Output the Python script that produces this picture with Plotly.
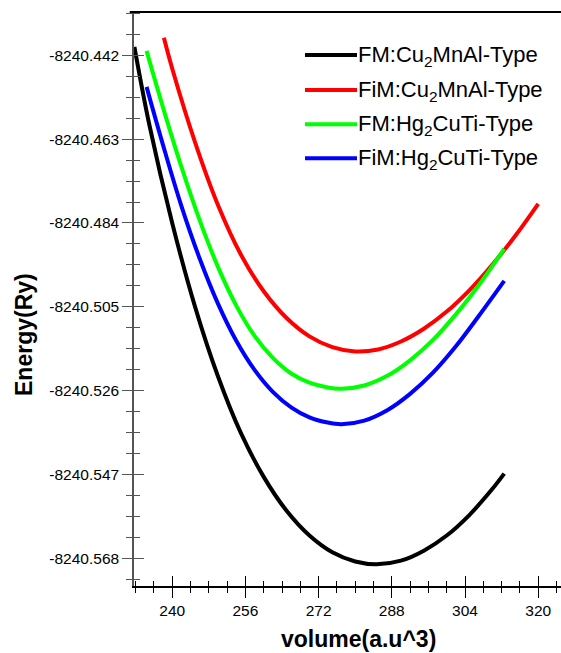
import plotly.graph_objects as go

# Energy-volume curves (volume in a.u^3, energy in Ry)
fm_cu2mnal_vol = [231.74, 235, 240, 245, 250, 255, 260, 265, 270, 275, 280, 284.68,
                  290, 295, 300, 305, 310, 312.57]
fm_cu2mnal_e = [-8240.4399, -8240.4594, -8240.4840, -8240.5050, -8240.5224, -8240.5366,
                -8240.5476, -8240.5561, -8240.5623, -8240.5665, -8240.5688, -8240.5695,
                -8240.5686, -8240.5661, -8240.5623, -8240.5571, -8240.5506, -8240.5468]

fim_cu2mnal_vol = [238.19, 240, 245, 250, 255, 260, 265, 270, 275, 280, 285, 290, 295,
                   300, 305, 310, 315, 320]
fim_cu2mnal_e = [-8240.4376, -8240.4453, -8240.4638, -8240.4795, -8240.4919, -8240.5011,
                 -8240.5078, -8240.5124, -8240.5151, -8240.5162, -8240.5157, -8240.5137,
                 -8240.5105, -8240.5062, -8240.5008, -8240.4944, -8240.4872, -8240.4792]

fm_hg2cuti_vol = [234.4, 238, 242, 246, 250, 254, 258, 262, 266, 270, 274, 277, 282, 287,
                  292, 297, 302, 307, 312.57]
fm_hg2cuti_e = [-8240.4409, -8240.4551, -8240.4699, -8240.4833, -8240.4950, -8240.5047,
                -8240.5123, -8240.5178, -8240.5217, -8240.5240, -8240.5252, -8240.5255,
                -8240.5247, -8240.5223, -8240.5184, -8240.5133, -8240.5069, -8240.4996,
                -8240.4905]

fim_hg2cuti_vol = [234.4, 238, 242, 246, 250, 254, 258, 262, 266, 270, 274, 277, 282, 287,
                   292, 297, 302, 307, 312.57]
fim_hg2cuti_e = [-8240.4499, -8240.4645, -8240.4797, -8240.4929, -8240.5042, -8240.5135,
                 -8240.5208, -8240.5263, -8240.5302, -8240.5327, -8240.5340, -8240.5344,
                 -8240.5335, -8240.5309, -8240.5268, -8240.5215, -8240.5149, -8240.5073,
                 -8240.4985]

series_names = ["FM:Cu<sub>2</sub>MnAl-Type", "FiM:Cu<sub>2</sub>MnAl-Type",
                "FM:Hg<sub>2</sub>CuTi-Type", "FiM:Hg<sub>2</sub>CuTi-Type"]
series_colors = ["#000000", "#ff0000", "#00ff00", "#0000ff"]

x_ticks = [240, 256, 272, 288, 304, 320]
y_ticks = [-8240.442, -8240.463, -8240.484, -8240.505, -8240.526, -8240.547, -8240.568]

FONT = "Arial, Liberation Sans, sans-serif"
W, H = 561, 653
ML, MR, MT, MB = 134, 0, 12, 67
PW, PH = W - ML - MR, H - MT - MB


def px_x(p):
    return (p - ML) / PW


def px_y(p):
    return (H - MB - p) / PH


fig = go.Figure()
series = [(fm_cu2mnal_vol, fm_cu2mnal_e), (fim_cu2mnal_vol, fim_cu2mnal_e),
          (fm_hg2cuti_vol, fm_hg2cuti_e), (fim_hg2cuti_vol, fim_hg2cuti_e)]
for (xv, yv), name, col in zip(series, series_names, series_colors):
    fig.add_trace(go.Scatter(
        x=xv, y=yv, mode="lines", name=name, showlegend=False,
        line=dict(color=col, width=4, shape="spline", smoothing=1.0),
    ))

x_range = [231.65, 324.98]
y_range = [-8240.57494, -8240.43115]

axis_font = dict(family=FONT, size=15.5, color="#000000")

# legend: sample line followed directly by the series label
shapes = [dict(type="line", xref="paper", yref="paper", x0=-0.01, x1=1, y0=1, y1=1,
               line=dict(color="#000000", width=2))]
annotations = []
row_y = [55, 90, 124.3, 158.3]
for name, col, ry in zip(series_names, series_colors, row_y):
    shapes.append(dict(type="line", xref="paper", yref="paper",
                       x0=px_x(305), x1=px_x(357), y0=px_y(ry), y1=px_y(ry),
                       line=dict(color=col, width=4)))
    annotations.append(dict(text=name, xref="paper", yref="paper",
                            x=px_x(356), y=px_y(ry + 1), xanchor="left", yanchor="middle",
                            showarrow=False, font=dict(family=FONT, size=22, color="#000000")))

annotations.append(dict(text="<b>volume(a.u^3)</b>", xref="paper", yref="paper",
                        x=px_x(358), y=px_y(639), xanchor="center", yanchor="middle",
                        showarrow=False, font=dict(family=FONT, size=23, color="#000000")))
annotations.append(dict(text="<b>Energy(Ry)</b>", xref="paper", yref="paper",
                        x=px_x(24), y=px_y(335), xanchor="center", yanchor="middle",
                        textangle=-90, showarrow=False,
                        font=dict(family=FONT, size=23, color="#000000")))

fig.update_layout(
    width=W, height=H,
    margin=dict(l=ML, r=MR, t=MT, b=MB),
    paper_bgcolor="white", plot_bgcolor="white",
    font=dict(family=FONT, color="#000000"),
    showlegend=False,
    xaxis=dict(
        range=x_range, tickvals=x_ticks, ticks="outside", ticklen=10, tickwidth=1,
        tickcolor="#000000", tickfont=axis_font,
        showline=True, linecolor="#000000", linewidth=1.5,
        showgrid=False, zeroline=False,
        minor=dict(dtick=4, tick0=232, ticks="outside", ticklen=5, tickcolor="#000000",
                   tickwidth=1, showgrid=False),
    ),
    yaxis=dict(
        range=y_range, tickvals=y_ticks, ticktext=[f"{v:.3f}" for v in y_ticks],
        ticks="outside", ticklen=10, tickwidth=1, tickcolor="#555555", tickfont=axis_font,
        showline=True, linecolor="#555555", linewidth=1.5,
        showgrid=False, zeroline=False,
        minor=dict(dtick=0.00525, tick0=-8240.442, ticks="outside", ticklen=6,
                   tickcolor="#555555", tickwidth=1, showgrid=False),
    ),
    # inside halves of the crossing ticks
    xaxis2=dict(
        range=x_range, overlaying="x", side="bottom", tickvals=x_ticks,
        ticks="inside", ticklen=10, tickcolor="#000000", tickwidth=1,
        showticklabels=False, showgrid=False, zeroline=False, showline=False,
        minor=dict(dtick=4, tick0=232, ticks="inside", ticklen=5, tickcolor="#000000",
                   tickwidth=1, showgrid=False),
    ),
    yaxis2=dict(
        range=y_range, overlaying="y", side="left", tickvals=y_ticks,
        ticks="inside", ticklen=10, tickcolor="#555555", tickwidth=1,
        showticklabels=False, showgrid=False, zeroline=False, showline=False,
        minor=dict(dtick=0.00525, tick0=-8240.442, ticks="inside", ticklen=6,
                   tickcolor="#555555", tickwidth=1, showgrid=False),
    ),
    shapes=shapes,
    annotations=annotations,
)

# empty trace anchoring the overlay axes
fig.add_trace(go.Scatter(x=[None], y=[None], xaxis="x2", yaxis="y2",
                         showlegend=False, hoverinfo="skip"))

fig.write_html("out.html")
